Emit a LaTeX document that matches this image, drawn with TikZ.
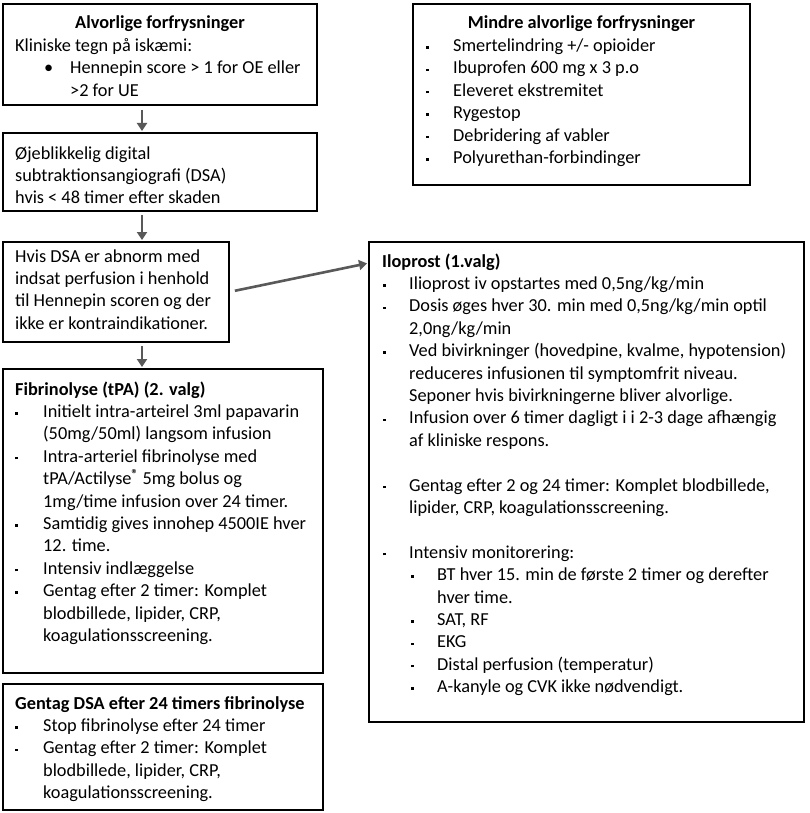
\documentclass[tikz,border=0pt]{standalone}
\usepackage{fontspec}
\setmainfont{Carlito}
\usetikzlibrary{arrows.meta,calc}
\definecolor{arrgray}{RGB}{89,89,89}
\newcommand\bul{\raisebox{3pt}{\rule{2.4pt}{2.4pt}}}
\newcommand\FI{\makebox[28pt][l]{\bul}}
\newcommand\FC{\hspace*{28pt}}
\newcommand\MI{\makebox[27pt][l]{\bul}}
\newcommand\LI{\makebox[27pt][l]{\hspace{1pt}\bul}}
\newcommand\LC{\hspace*{27pt}}
\newcommand\SI{\hspace*{27pt}\makebox[28pt][l]{\hspace{2pt}\bul}}
\newcommand\SC{\hspace*{55pt}}
\begin{document}
\begin{tikzpicture}[x=1pt,y=-1pt,
  box/.style={draw=black,line width=1.1pt,anchor=north west,inner sep=0pt,outer sep=0pt},
  txt/.style={anchor=north west,inner sep=0pt,align=left,font=\fontsize{18.3}{22.4}\selectfont},
  ttl/.style={anchor=base,inner sep=0pt,font=\fontsize{18.3}{22.4}\selectfont\bfseries},
  arr/.style={draw=arrgray,line width=2.6pt,-{Triangle[length=8pt,width=10pt]}}]
\useasboundingbox[fill=white] (0,0) rectangle (810,813);
% boxes
\node[box,minimum width=314pt,minimum height=101pt] (b1) at (3,4) {};
\node[box,minimum width=314pt,minimum height=78pt] (b2) at (3,133) {};
\node[box,minimum width=226pt,minimum height=100pt] (b3) at (3,242) {};
\node[box,minimum width=320pt,minimum height=304pt] (b4) at (3,369) {};
\node[box,minimum width=320pt,minimum height=126pt] (b5) at (3,684) {};
\node[box,minimum width=337pt,minimum height=181pt] (bm) at (413,4) {};
\node[box,minimum width=435pt,minimum height=480pt] (bi) at (369,242) {};
% box 1
\node[ttl] (h1) at (160,28.5) {Alvorlige forfrysninger};
\node[txt] (t1) at (15,35.7) {\strut Kliniske tegn på iskæmi:\\
\hspace*{29pt}\makebox[26pt][l]{\textbullet}Hennepin score > 1 for OE eller\\
\hspace*{55pt}>2 for UE};
% box 2
\node[txt] (t2) at (15,143.3) {\strut Øjeblikkelig digital\\
subtraktionsangiografi (DSA)\\
hvis < 48 timer efter skaden};
% box 3
\node[txt] (t3) at (15,246.3) {\strut Hvis DSA er abnorm med\\
indsat perfusion i henhold\\
til Hennepin scoren og der\\
ikke er kontraindikationer.};
% box 4
\node[txt] (t4) at (15,379.3) {\textbf{\strut Fibrinolyse (tPA) (2. valg)}\\
\FI Initielt intra-arteirel 3ml papavarin\\
\FC (50mg/50ml) langsom infusion\\
\FI Intra-arteriel fibrinolyse med\\
\FC tPA/Actilyse\textsuperscript{\textbf{®}} 5mg bolus og\\
\FC 1mg/time infusion over 24 timer.\\
\FI Samtidig gives innohep 4500IE hver\\
\FC 12. time.\\
\FI Intensiv indlæggelse\\
\FI Gentag efter 2 timer: Komplet\\
\FC blodbillede, lipider, CRP,\\
\FC koagulationsscreening.};
% box 5
\node[txt] (t5) at (15,693.3) {\textbf{\strut Gentag DSA efter 24 timers fibrinolyse}\\
\FI Stop fibrinolyse efter 24 timer\\
\FI Gentag efter 2 timer: Komplet\\
\FC blodbillede, lipider, CRP,\\
\FC koagulationsscreening.};
% mindre
\node[ttl] (hm) at (581.5,28.5) {Mindre alvorlige forfrysninger};
\node[txt] (tm) at (426,35.7) {\MI\strut Smertelindring +/- opioider\\
\MI Ibuprofen 600 mg x 3 p.o\\
\MI Eleveret ekstremitet\\
\MI Rygestop\\
\MI Debridering af vabler\\
\MI Polyurethan-forbindinger};
% iloprost
\node[txt] (ti) at (382,251.3) {\textbf{\strut Iloprost (1.valg)}\\
\LI Ilioprost iv opstartes med 0,5ng/kg/min\\
\LI Dosis øges hver 30. min med 0,5ng/kg/min optil\\
\LC 2,0ng/kg/min\\
\LI Ved bivirkninger (hovedpine, kvalme, hypotension)\\
\LC reduceres infusionen til symptomfrit niveau.\\
\LC Seponer hvis bivirkningerne bliver alvorlige.\\
\LI Infusion over 6 timer dagligt i i 2-3 dage afhængig\\
\LC af kliniske respons.\\
\mbox{}\\
\LI Gentag efter 2 og 24 timer: Komplet blodbillede,\\
\LC lipider, CRP, koagulationsscreening.\\
\mbox{}\\
\LI Intensiv monitorering:\\
\SI BT hver 15. min de første 2 timer og derefter\\
\SC hver time.\\
\SI SAT, RF\\
\SI EKG\\
\SI Distal perfusion (temperatur)\\
\SI A-kanyle og CVK ikke nødvendigt.};
% arrows
\coordinate (ax) at (142,0);
\draw[arr,shorten <=5pt,shorten >=2pt] (b1.south -| ax) -- (b2.north -| ax);
\draw[arr,shorten <=4pt,shorten >=2pt] (b2.south -| ax) -- (b3.north -| ax);
\draw[arr,shorten <=4pt,shorten >=2pt] (b3.south -| ax) -- (b4.north -| ax);
\draw[arr,shorten <=6pt,shorten >=2pt] (b3.east) -- ($(bi.north west)+(0,21)$);
\end{tikzpicture}
\end{document}
